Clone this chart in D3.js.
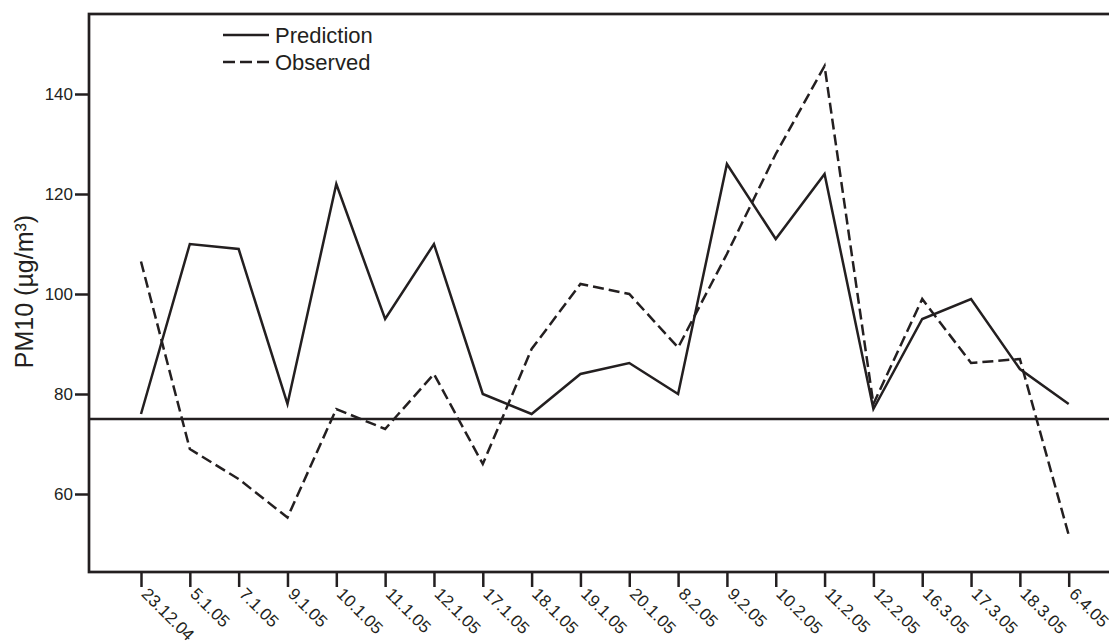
<!DOCTYPE html>
<html>
<head>
<meta charset="utf-8">
<script src="https://cdn.jsdelivr.net/npm/d3@7/dist/d3.min.js"></script>
<style>
  html, body { margin: 0; padding: 0; background: #fff; }
  svg { display: block; }
  text { font-family: "Liberation Sans", Arial, Helvetica, sans-serif; fill: #231f20; }
</style>
</head>
<body>
<svg id="chart" width="1109" height="641"></svg>
<script>
// Sampling dates (dd.m.yy)
const dates = ["23.12.04", "5.1.05", "7.1.05", "9.1.05", "10.1.05", "11.1.05", "12.1.05",
  "17.1.05", "18.1.05", "19.1.05", "20.1.05", "8.2.05", "9.2.05", "10.2.05", "11.2.05",
  "12.2.05", "16.3.05", "17.3.05", "18.3.05", "6.4.05"];

// Daily PM10 concentrations, µg/m³
const prediction = [76, 110, 109, 78, 122, 95, 110, 80, 76, 84, 86.2, 80, 126, 111, 124, 77, 95, 99, 85, 78];
const observed   = [106.5, 69, 63, 55.3, 77, 73, 84, 66, 89, 102, 100, 89.3, 108, 128, 145.6, 78, 99, 86.2, 87, 51.8];

// Daily limit value
const limitValue = 75;

const yTicks = [60, 80, 100, 120, 140];
const yDomain = [44.4, 156];

const ink = "#231f20";
const svg = d3.select("#chart");

const frame = { left: 89, top: 14, right: 1122, bottom: 572 };

const x = d3.scalePoint()
  .domain(dates)
  .range([141, 1068.7]);

const y = d3.scaleLinear()
  .domain(yDomain)
  .range([frame.bottom, frame.top]);

// Y axis ticks and labels
const yAxis = svg.append("g")
  .attr("transform", `translate(${frame.left},0)`)
  .call(d3.axisLeft(y).tickValues(yTicks).tickSize(14).tickSizeOuter(0).tickPadding(2));
yAxis.select(".domain").remove();
yAxis.selectAll(".tick line").attr("stroke", ink).attr("stroke-width", 2.5);
yAxis.selectAll(".tick text")
  .style("font-size", "17px")
  .attr("fill", ink);

// X axis ticks and rotated labels
const xAxis = svg.append("g")
  .attr("transform", `translate(0,${frame.bottom})`)
  .call(d3.axisBottom(x).tickSize(15).tickSizeOuter(0));
xAxis.select(".domain").remove();
xAxis.selectAll(".tick line").attr("stroke", ink).attr("stroke-width", 2.5);
xAxis.selectAll(".tick text")
  .style("font-size", "17px")
  .attr("fill", ink)
  .attr("text-anchor", "start")
  .attr("x", 0)
  .attr("y", 0)
  .attr("dy", 0)
  .attr("transform", "translate(-1,23) rotate(45)");

// Plot frame
svg.append("rect")
  .attr("x", frame.left)
  .attr("y", frame.top)
  .attr("width", frame.right - frame.left)
  .attr("height", frame.bottom - frame.top)
  .attr("fill", "none")
  .attr("stroke", ink)
  .attr("stroke-width", 2.7);

// Limit value line
svg.append("line")
  .attr("x1", frame.left)
  .attr("x2", frame.right)
  .attr("y1", y(limitValue))
  .attr("y2", y(limitValue))
  .attr("stroke", ink)
  .attr("stroke-width", 2.5);

const line = d3.line()
  .x((d, i) => x(dates[i]))
  .y(d => y(d));

svg.append("path")
  .datum(observed)
  .attr("d", line)
  .attr("fill", "none")
  .attr("stroke", ink)
  .attr("stroke-width", 2.5)
  .attr("stroke-dasharray", "11,5");

svg.append("path")
  .datum(prediction)
  .attr("d", line)
  .attr("fill", "none")
  .attr("stroke", ink)
  .attr("stroke-width", 2.5)
  .attr("stroke-linejoin", "miter");

// Y axis title
svg.append("text")
  .attr("transform", "translate(33,291.5) rotate(-90)")
  .attr("text-anchor", "middle")
  .style("font-size", "25px")
  .text("PM10 (µg/m³)");

// Legend
const legend = [
  { label: "Prediction", dash: null, y: 35 },
  { label: "Observed", dash: "12,5", y: 62 }
];
const lg = svg.append("g");
legend.forEach(item => {
  lg.append("line")
    .attr("x1", 223).attr("x2", 269)
    .attr("y1", item.y).attr("y2", item.y)
    .attr("stroke", ink)
    .attr("stroke-width", 2.5)
    .attr("stroke-dasharray", item.dash);
  lg.append("text")
    .attr("x", 275)
    .attr("y", item.y + 7.5)
    .style("font-size", "22px")
    .text(item.label);
});
</script>
</body>
</html>
